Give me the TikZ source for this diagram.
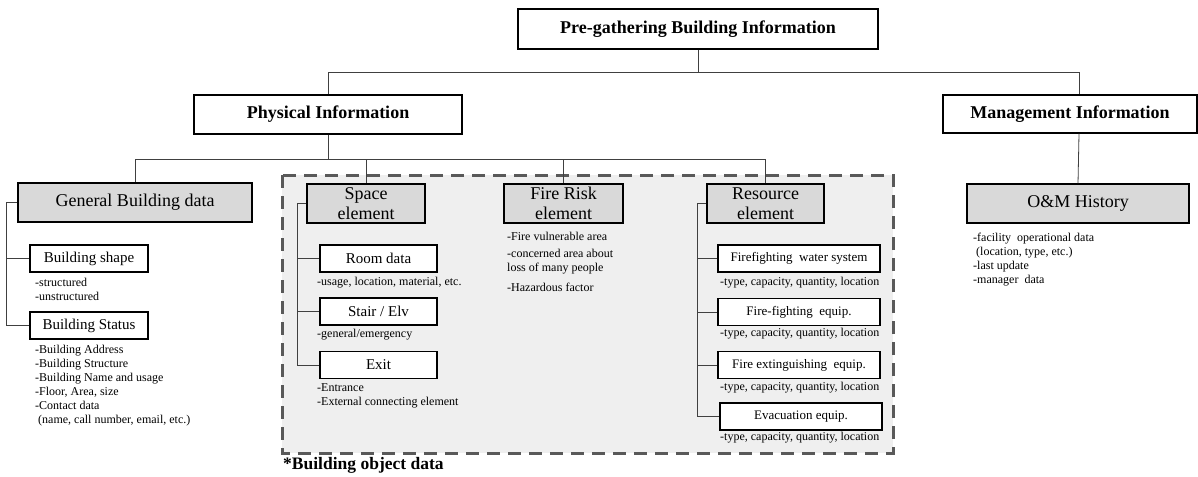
\documentclass[tikz,border=0pt]{standalone}
\usepackage{fontspec}
\setmainfont{Liberation Serif}
\usetikzlibrary{calc}
\definecolor{boxgray}{HTML}{D9D9D9}
\definecolor{areagray}{HTML}{EFEFEF}
\definecolor{dashgray}{HTML}{595959}
\definecolor{linegray}{HTML}{404040}
\tikzset{
  base/.style={draw=black, line width=1.1pt, inner sep=0pt, align=center},
  hbox/.style={base, fill=white, font=\fontsize{18}{20}\selectfont\bfseries},
  gbox/.style={base, fill=boxgray, font=\fontsize{18}{20}\selectfont},
  cbox/.style={base, fill=white, font=\fontsize{15}{17}\selectfont, minimum height=27pt},
  rbox/.style={base, fill=white, font=\fontsize{13}{15}\selectfont, minimum width=162pt, minimum height=27pt},
  note/.style={anchor=north west, inner sep=0pt, align=left, font=\fontsize{12}{14}\selectfont},
  link/.style={draw=linegray, line width=0.8pt},
  area/.style={draw=dashgray, fill=areagray, line width=3pt, dash pattern=on 13pt off 8pt},
}
\begin{document}
\begin{tikzpicture}[x=1pt,y=-1pt]
\useasboundingbox (0,0) rectangle (1198,476);
\clip (0,0) rectangle (1198,476);
% dashed area
\draw[area] (282,175) rectangle (893,453);
\node[anchor=west, inner sep=0pt, font=\fontsize{17.5}{20}\selectfont\bfseries] (bod) at (283,465) {*Building object data};
% level 1-2
\node[hbox, minimum width=360pt, minimum height=40pt] (top) at (698,29) {Pre-gathering Building Information};
\node[hbox, minimum width=268pt, minimum height=39pt] (phys) at (328,114.5) {Physical Information};
\node[hbox, minimum width=254pt, minimum height=38pt] (mgmt) at (1070,114) {Management Information};
% level 3
\node[gbox, minimum width=234pt, minimum height=39pt] (gen) at (135,202.5) {General Building data};
\node[gbox, minimum width=118pt, minimum height=39pt] (space) at (366,203.5) {Space\\element};
\node[gbox, minimum width=119pt, minimum height=39pt] (fire) at (563.5,203.5) {Fire Risk\\element};
\node[gbox, minimum width=117pt, minimum height=39pt] (res) at (765.5,203.5) {Resource\\element};
\node[gbox, minimum width=222pt, minimum height=39pt] (om) at (1078,203.5) {O\&M History};
% children
\node[cbox, minimum width=118pt] (bshape) at (89,258.5) {Building shape};
\node[cbox, minimum width=118pt] (bstatus) at (89,325.5) {Building Status};
\node[cbox, minimum width=117pt] (room) at (378.5,258.5) {Room data};
\node[cbox, minimum width=117pt] (stair) at (378.5,311.5) {Stair / Elv};
\node[cbox, minimum width=117pt] (exit) at (378.5,365) {Exit};
\node[rbox] (fw) at (799,258.5) {Firefighting\ \ water system};
\node[rbox] (ff) at (799,312) {Fire-fighting\ \ equip.};
\node[rbox] (fe) at (799,365) {Fire extinguishing\ \ equip.};
\node[rbox] (ev) at (801,416.5) {Evacuation equip.};
% notes
\node[note] (n1) at (35,278) {-structured\\-unstructured};
\node[note] (n2) at (35,345) {-Building Address\\-Building Structure\\-Building Name and usage\\-Floor, Area, size\\-Contact data\\\ (name, call number, email, etc.)};
\node[note] (n3) at (317,277) {-usage, location, material, etc.};
\node[note] (n4) at (317,329) {-general/emergency};
\node[note] (n5) at (317,383) {-Entrance\\-External connecting element};
\node[note] (n6) at (507,232) {-Fire vulnerable area\\[3pt]-concerned area about\\loss of many people\\[6pt]-Hazardous factor};
\node[note] (n7) at (720,277) {-type, capacity, quantity, location};
\node[note] (n8) at (720,328) {-type, capacity, quantity, location};
\node[note] (n9) at (720,382) {-type, capacity, quantity, location};
\node[note] (n10) at (720,432) {-type, capacity, quantity, location};
\node[note] (n11) at (973,233) {-facility\ \ operational data\\\ (location, type, etc.)\\-last update\\-manager\ \ data};
% connectors
\coordinate (j1) at (698,72);
\coordinate (mj) at (1079,72);
\coordinate (j2) at (328,159);
\draw[link] (top.south) -- (j1) -| (phys.north);
\draw[link] (j1) -- (mj) -- (mj |- mgmt.north);
\draw[link] (mj |- mgmt.south) -- (om.north);
\draw[link] (phys.south) -- (j2) -| (gen.north);
\draw[link] (j2) -| (space.north);
\draw[link] (j2) -| (fire.north);
\draw[link] (j2) -| (res.north);
\draw[link] (gen.west) -- ++(-11,0) coordinate (gb);
\draw[link] (gb) |- (bshape.west);
\draw[link] (gb) |- (bstatus.west);
\draw[link] (space.west) -- ++(-9,0) coordinate (sb);
\draw[link] (sb) |- (room.west);
\draw[link] (sb) |- (stair.west);
\draw[link] (sb) |- (exit.west);
\draw[link] (res.west) -- ++(-9,0) coordinate (rb);
\draw[link] (rb) |- (fw.west);
\draw[link] (rb) |- (ff.west);
\draw[link] (rb) |- (fe.west);
\draw[link] (rb) |- (ev.west);
\end{tikzpicture}
\end{document}
